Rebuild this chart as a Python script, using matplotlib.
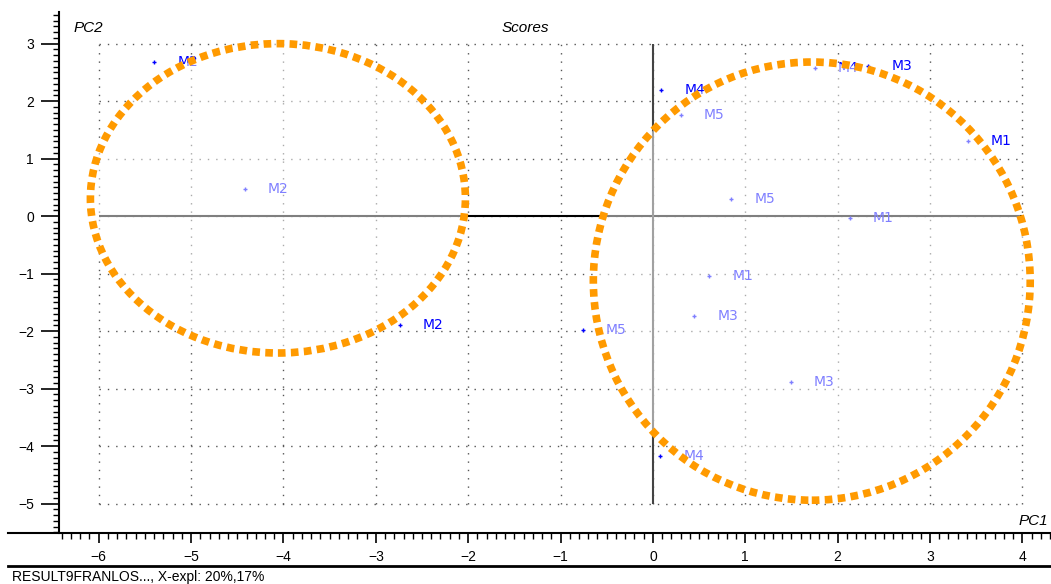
import matplotlib
matplotlib.use("Agg")
import matplotlib.pyplot as plt
from matplotlib.patches import Ellipse
from matplotlib.ticker import MultipleLocator
from matplotlib.lines import Line2D

plt.rcParams["font.family"] = ["Liberation Sans", "DejaVu Sans"]

# scores (PC1, PC2) with sample labels
pc1 = [-5.40, -4.42, -2.74, -0.76, 0.09, 0.30, 1.75, 2.33, 3.41, 0.85, 2.13, 0.61, 0.45, 1.49, 0.08]
pc2 = [2.68, 0.47, -1.90, -1.98, 2.19, 1.76, 2.57, 2.61, 1.30, 0.30, -0.03, -1.04, -1.74, -2.89, -4.17]
labels = ["M2", "M2", "M2", "M5", "M4", "M5", "M4", "M3", "M1", "M5", "M1", "M1", "M3", "M3", "M4"]

# highlighted groups: (center x, center y, width, height)
groups = [(-4.06, 0.31, 4.06, 5.38), (1.72, -1.13, 4.73, 7.62)]

x_ticks = [-6, -5, -4, -3, -2, -1, 0, 1, 2, 3, 4]
y_ticks = [-5, -4, -3, -2, -1, 0, 1, 2, 3]

fig = plt.figure(figsize=(10.51, 5.84), dpi=100)
ax = fig.add_axes([59 / 1051, 51 / 584, 1 - 59 / 1051, (533 - 12) / 584])
ax.set_xlim(-6.43, 4.31)
ax.set_ylim(-5.51, 3.55)

# dotted grid limited to the tick range
ax.hlines(y_ticks, x_ticks[0], x_ticks[-1], colors="#555555", linestyles=(0, (1, 5)), linewidth=1, zorder=1)
ax.vlines(x_ticks, y_ticks[0], y_ticks[-1], colors="#555555", linestyles=(0, (1, 5)), linewidth=1, zorder=1)
ax.hlines(0, x_ticks[0], x_ticks[-1], colors="#000000", linewidth=1.5, zorder=2)
ax.vlines(0, y_ticks[0], y_ticks[-1], colors="#444444", linewidth=1.5, zorder=2)

ax.scatter(pc1, pc2, marker="+", s=12, color="#0000ff", linewidths=1, zorder=3)
for x, y, lab in zip(pc1, pc2, labels):
    ax.text(x + 0.25, y, lab, color="#0000ff", fontsize=10, va="center", ha="left",
            family=["DejaVu Sans"], zorder=3)

for cx, cy, w, h in groups:
    ax.add_patch(Ellipse((cx, cy), w, h, facecolor=(1, 1, 1, 0.5), edgecolor="none", zorder=4))
    ax.add_patch(Ellipse((cx, cy), w, h, facecolor="none", edgecolor="#ff9a00",
                         linewidth=5.5, linestyle=(0, (1, 0.7)), zorder=5))

ax.set_xticks(x_ticks)
ax.set_yticks(y_ticks)
ax.xaxis.set_minor_locator(MultipleLocator(0.1))
ax.yaxis.set_minor_locator(MultipleLocator(0.1))
ax.tick_params(axis="x", which="major", length=7, width=1.2, labelsize=10, pad=5)
ax.tick_params(axis="y", which="major", length=13, width=1.2, labelsize=10, pad=5)
ax.tick_params(which="minor", length=4, width=1)
for s in ["top", "right", "bottom"]:
    ax.spines[s].set_visible(False)
ax.spines["left"].set_linewidth(1.5)

ax.text(0.5, 1 - 28 / 584, "Scores", transform=fig.transFigure, ha="center", va="center",
        fontsize=11, style="italic")
ax.text(88 / 1051, 1 - 28 / 584, "PC2", transform=fig.transFigure, ha="center", va="center",
        fontsize=11, style="italic")
ax.text(1033 / 1051, 1 - 521 / 584, "PC1", transform=fig.transFigure, ha="center", va="center",
        fontsize=11, style="italic")

fig.add_artist(Line2D([8 / 1051, 1], [1 - 533 / 584] * 2, color="black", linewidth=1.5))
fig.add_artist(Line2D([8 / 1051, 1], [1 - 566 / 584] * 2, color="black", linewidth=2))
fig.text(12 / 1051, 1 - 577 / 584, "RESULT9FRANLOS..., X-expl: 20%,17%", ha="left", va="center",
         fontsize=10)

fig.savefig("out.png", dpi=100)
